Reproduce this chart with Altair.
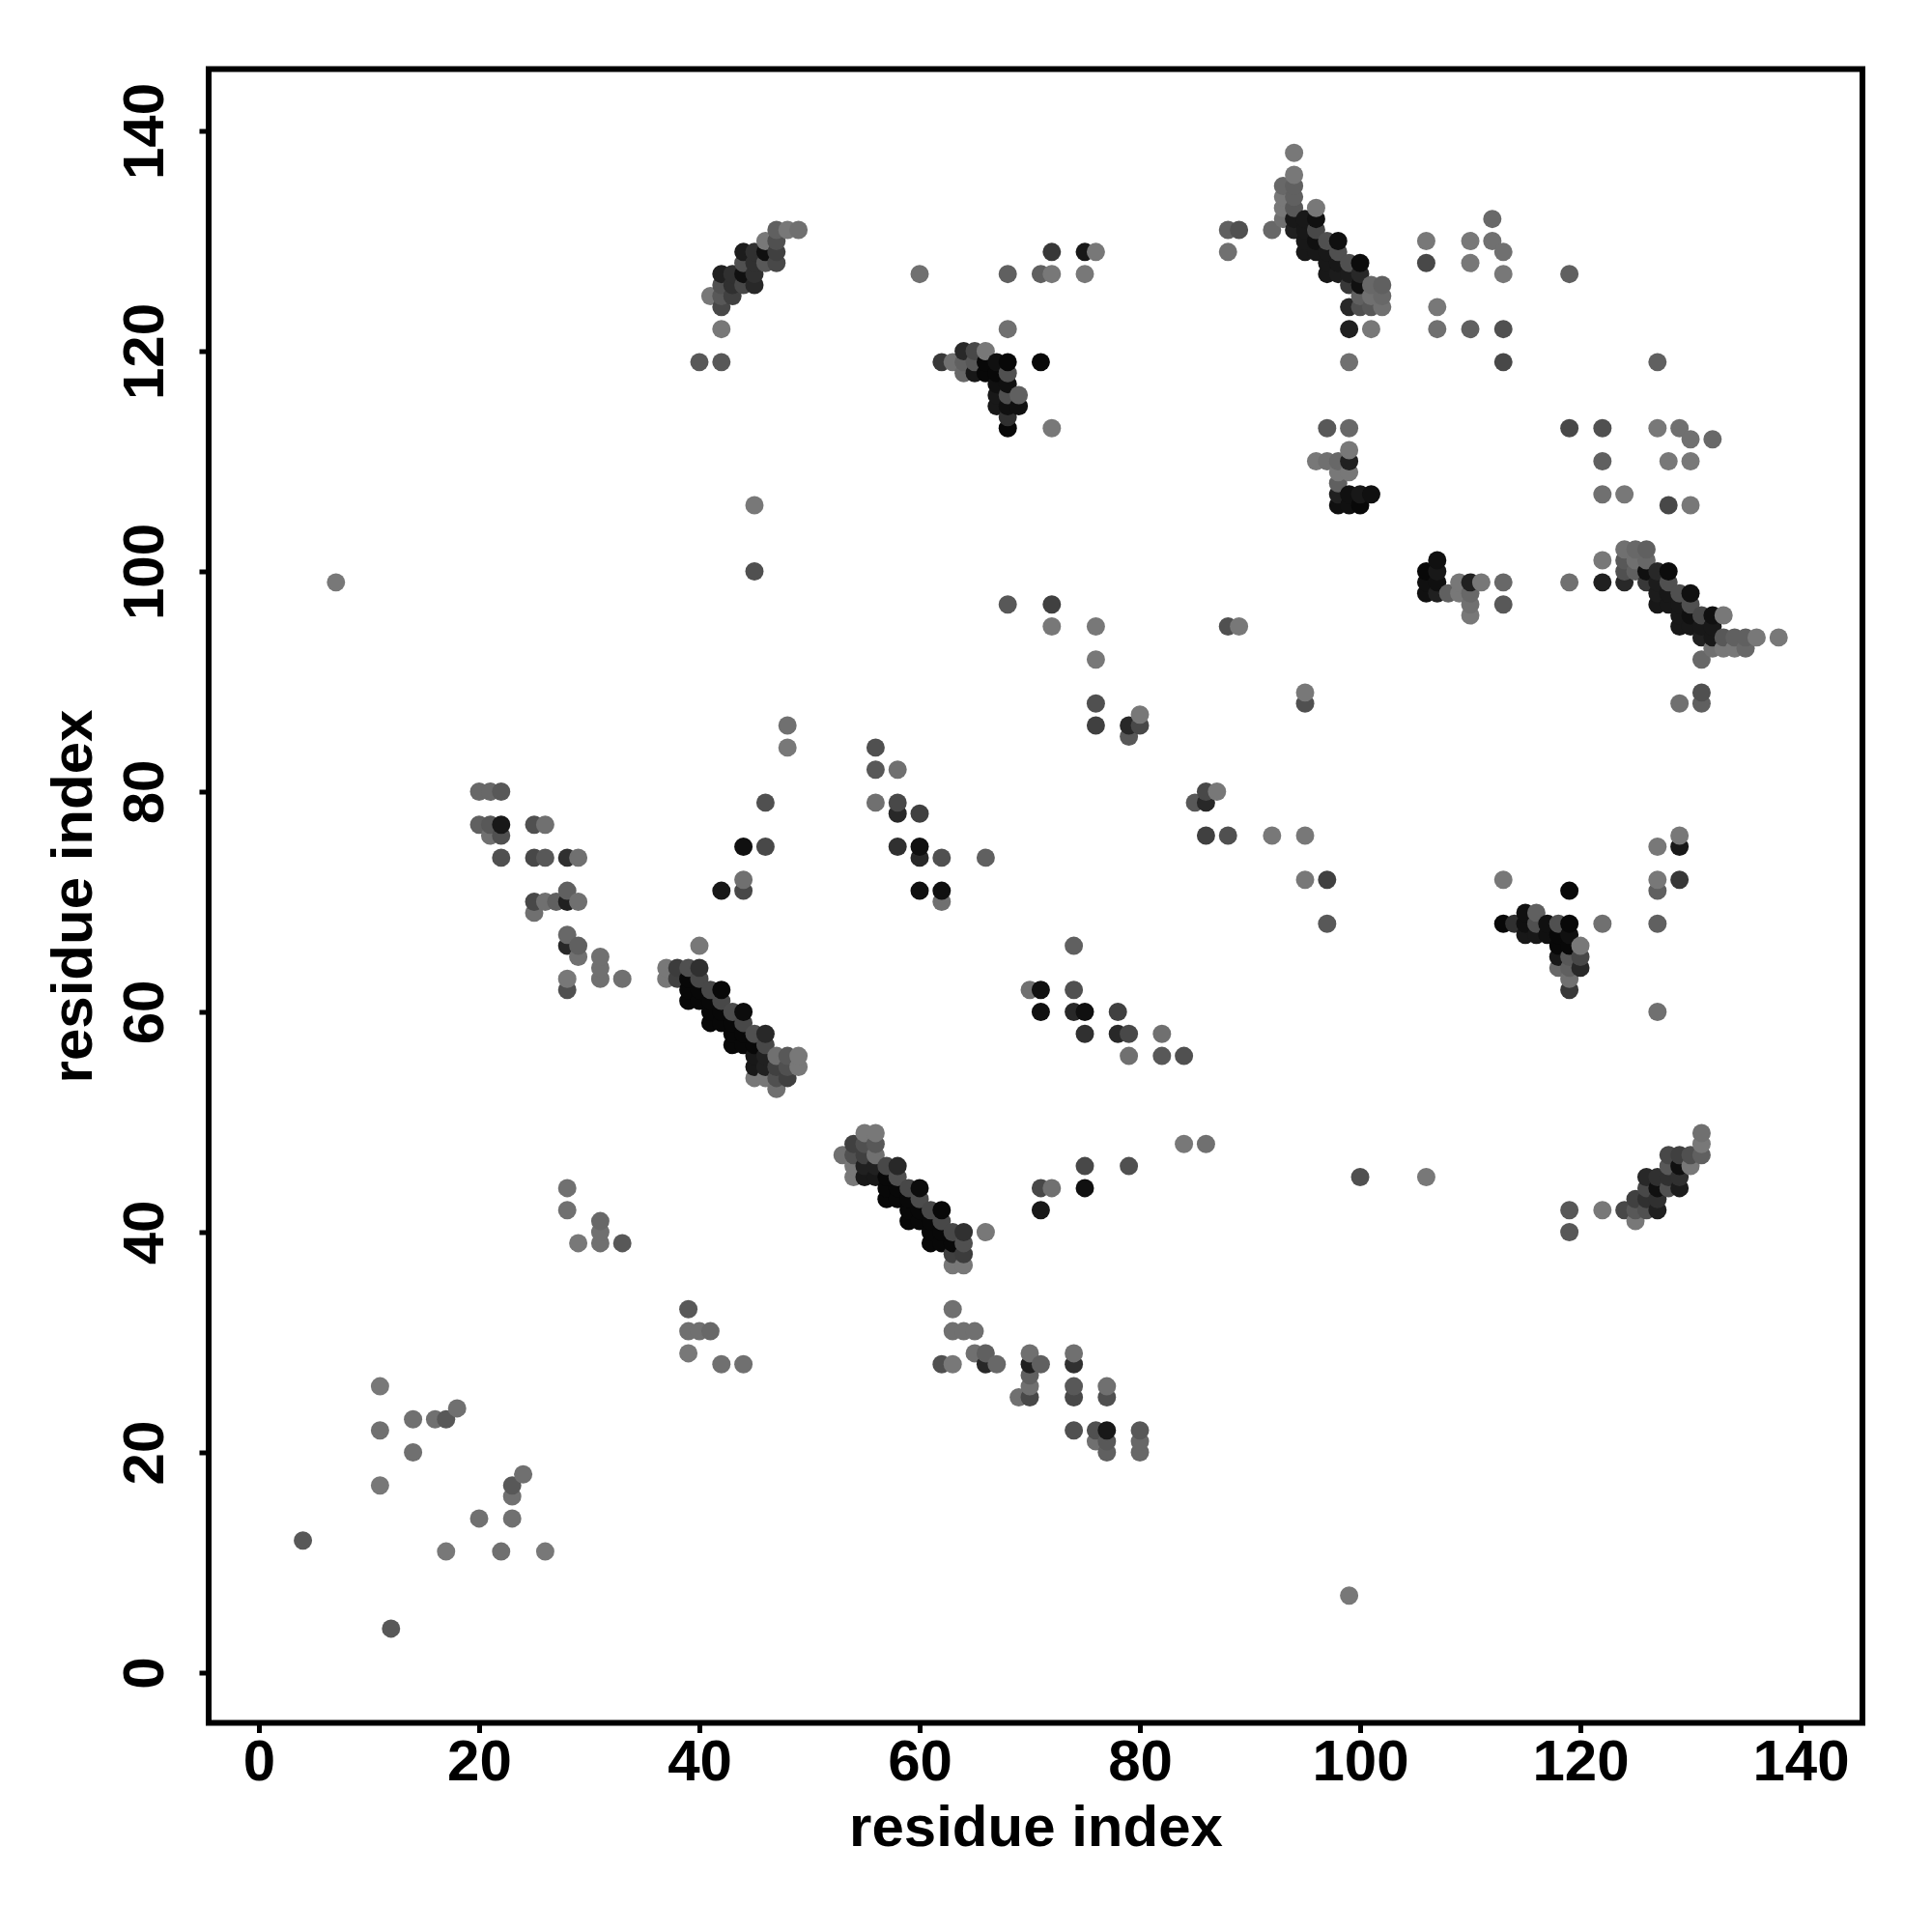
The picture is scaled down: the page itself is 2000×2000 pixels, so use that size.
import altair as alt
import pandas as pd

first = [4, 7, 11, 14, 16, 17, 18, 20, 21, 22, 25, 26, 27, 28, 29, 31, 33, 37, 38, 39, 40, 41, 42, 43, 44,
         45, 46, 47, 48, 49, 56, 58, 60, 62, 63, 64, 65, 66, 67, 68, 69, 71, 72, 75, 76, 79, 80, 88, 89,
         92, 93, 94, 95, 96, 97, 98, 99, 100, 101, 102, 106, 107, 110, 112, 113, 119]

partners = [
    [12], [99], [17, 22, 26], [20, 23], [23], [23], [24], [77, 80], [76, 77, 80], [74, 76, 77, 80],
    [69, 70, 74, 77], [70, 74, 77], [70], [42, 44, 62, 63, 66, 67, 70, 71, 74], [39, 65, 66, 70, 74],
    [39, 40, 41, 63, 64, 65], [39, 63], [63, 64], [63, 64], [61, 62, 63, 64],
    [61, 62, 63, 64, 66, 119], [59, 60, 61, 62, 125],
    [59, 60, 61, 62, 71, 119, 122, 124, 125, 126, 127], [57, 58, 59, 60, 125, 126, 127],
    [57, 58, 59, 60, 71, 72, 75, 126, 127, 128, 129],
    [54, 55, 56, 57, 58, 100, 106, 126, 127, 128, 129], [54, 55, 56, 57, 58, 75, 79, 128, 129, 130],
    [53, 54, 55, 56, 128, 129, 130, 131], [54, 55, 56, 84, 86, 131], [55, 56, 131],
    [79, 82, 84], [75, 78, 79, 82], [71, 74, 75, 78, 127], [70, 71, 74, 119], [119], [118, 119, 120],
    [118, 119, 120], [74, 118, 119, 120], [115, 116, 117, 118, 119],
    [97, 113, 114, 115, 116, 117, 118, 119, 122, 127], [115, 116], [119, 127], [95, 97, 113, 127, 129],
    [127, 129], [86, 88, 92, 95, 129], [85, 86], [86, 87], [95, 129, 131], [95, 131], [131],
    [132, 133, 134, 135], [131, 132, 133, 134, 135, 136, 138], [129, 130, 131, 132],
    [110, 129, 130, 131, 132, 133], [110, 113, 127, 128, 129, 130],
    [106, 107, 108, 109, 110, 127, 128, 129, 130],
    [106, 107, 109, 110, 111, 113, 119, 122, 124, 126, 127, 128],
    [106, 107, 124, 125, 126, 127, 128], [107, 122, 124, 125, 126], [124, 125, 126], [128, 130],
    [122, 124], [122, 128, 130], [130, 132], [119, 122, 127, 129], [127],
]

shades = [
    [0x58], [0x78], [0x78, 0x70, 0x78], [0x70, 0x70], [0x70], [0x58], [0x70], [0x60, 0x68],
    [0x70, 0x58, 0x68], [0x50, 0x50, 0x18, 0x58],
    [0x70, 0x48, 0x48, 0x50], [0x70, 0x58, 0x70], [0x60],
    [0x70, 0x70, 0x50, 0x78, 0x28, 0x68, 0x20, 0x60, 0x30], [0x78, 0x70, 0x60, 0x70, 0x70],
    [0x70, 0x70, 0x68, 0x70, 0x70, 0x70], [0x58, 0x70], [0x78, 0x78], [0x40, 0x3c],
    [0x08, 0x08, 0x08, 0x50],
    [0x08, 0x08, 0x48, 0x30, 0x78, 0x58], [0x08, 0x08, 0x08, 0x48, 0x78],
    [0x08, 0x08, 0x48, 0x08, 0x18, 0x58, 0x78, 0x48, 0x58, 0x50, 0x20],
    [0x08, 0x08, 0x08, 0x4c, 0x40, 0x30, 0x30],
    [0x08, 0x08, 0x48, 0x0c, 0x48, 0x70, 0x10, 0x48, 0x10, 0x50, 0x1c],
    [0x78, 0x18, 0x18, 0x08, 0x50, 0x50, 0x78, 0x28, 0x30, 0x30, 0x30],
    [0x78, 0x20, 0x20, 0x48, 0x28, 0x48, 0x50, 0x58, 0x10, 0x78],
    [0x70, 0x50, 0x40, 0x70, 0x48, 0x40, 0x50, 0x60], [0x40, 0x50, 0x58, 0x78, 0x70, 0x78],
    [0x78, 0x78, 0x70],
    [0x70, 0x58, 0x50], [0x30, 0x28, 0x48, 0x70], [0x10, 0x28, 0x10, 0x40, 0x70],
    [0x70, 0x10, 0x50, 0x38], [0x70], [0x68, 0x60, 0x28],
    [0x18, 0x58, 0x48], [0x60, 0x08, 0x08, 0x78], [0x18, 0x18, 0x10, 0x08, 0x10],
    [0x58, 0x08, 0x30, 0x10, 0x50, 0x10, 0x50, 0x08, 0x70, 0x60], [0x10, 0x60], [0x08, 0x60],
    [0x78, 0x40, 0x78, 0x78, 0x38],
    [0x78, 0x18], [0x40, 0x50, 0x78, 0x78, 0x78], [0x58, 0x28], [0x48, 0x78], [0x50, 0x70, 0x60],
    [0x78, 0x50], [0x68],
    [0x70, 0x78, 0x78, 0x68], [0x20, 0x18, 0x58, 0x60, 0x60, 0x78, 0x78], [0x18, 0x18, 0x18, 0x18],
    [0x78, 0x18, 0x10, 0x48, 0x10, 0x78], [0x70, 0x58, 0x18, 0x18, 0x18, 0x50],
    [0x10, 0x20, 0x60, 0x78, 0x68, 0x1c, 0x18, 0x50, 0x10],
    [0x10, 0x10, 0x78, 0x20, 0x78, 0x68, 0x70, 0x20, 0x28, 0x38, 0x1c, 0x50],
    [0x08, 0x18, 0x50, 0x60, 0x10, 0x28, 0x0c], [0x10, 0x78, 0x58, 0x70, 0x68], [0x70, 0x68, 0x60],
    [0x48, 0x78],
    [0x70, 0x78], [0x60, 0x78, 0x78], [0x70, 0x68], [0x48, 0x50, 0x78, 0x70], [0x60],
]

tick_values = [0, 20, 40, 60, 80, 100, 120, 140]
axis_title = "residue index"
font = "Liberation Sans"

rows = []
for a, js, gs in zip(first, partners, shades):
    assert len(js) == len(gs), a
    for b, g in zip(js, gs):
        colour = f"#{g:02x}{g:02x}{g:02x}"
        rows.append({"x": a, "y": b, "c": colour})
        rows.append({"x": b, "y": a, "c": colour})
df = pd.DataFrame(rows).sort_values(["x", "y"]).reset_index(drop=True)

common = dict(values=tick_values, grid=False, domain=False, ticks=True, tickColor="black",
              tickWidth=5, tickSize=10, labelFont=font, labelFontWeight="bold", labelFontSize=60,
              labelColor="black", titleFont=font, titleFontWeight="bold", titleFontSize=60,
              titleColor="black", title=axis_title, labelOverlap=False, labelFlush=False)

chart = (
    alt.Chart(df)
    .mark_point(filled=True, size=360, opacity=1, strokeWidth=0)
    .encode(
        x=alt.X("x:Q", scale=alt.Scale(domain=[-4.56, 145.61], nice=False, zero=False),
                axis=alt.Axis(labelPadding=2, titlePadding=9, format="d", **common)),
        y=alt.Y("y:Q", scale=alt.Scale(domain=[-4.56, 145.61], nice=False, zero=False),
                axis=alt.Axis(labelAngle=270, labelAlign="center", labelBaseline="bottom",
                              labelPadding=25, titlePadding=13, format="d", **common)),
        color=alt.Color("c:N", scale=None, legend=None),
    )
    .properties(
        width=1712, height=1712,
        autosize=alt.AutoSizeParams(type="none", contains="content"),
        padding={"left": 208, "top": 63.5, "right": 64, "bottom": 208},
        background="white",
    )
    .configure_view(stroke="black", strokeWidth=6)
)

chart.save("out.html", embed_options={"renderer": "svg", "actions": False})
